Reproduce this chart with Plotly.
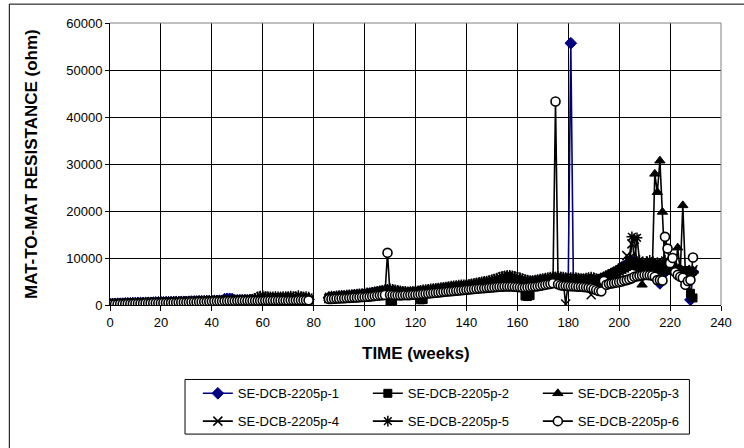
import plotly.graph_objects as go

# ---------------- data (ohm) ----------------
WEEKS_A = [0, 1, 2, 3, 4, 5, 6, 7, 8, 9, 10, 11, 12, 13, 14, 15, 16, 17, 18, 19,
           20, 21, 22, 23, 24, 25, 26, 27, 28, 29, 30, 31, 32, 33, 34, 35, 36, 37, 38, 39,
           40, 41, 42, 43, 44, 45, 46, 47, 48, 49, 50, 51, 52, 53, 54, 55, 56, 57, 58, 59,
           60, 61, 62, 63, 64, 65, 66, 67, 68, 69, 70, 71, 72, 73, 74, 75, 76, 77, 78]
WEEKS_B = [86, 87, 88, 89, 90, 91, 92, 93, 94, 95, 96, 97, 98, 99, 100, 101, 102, 103, 104, 105,
           106, 107, 108, 109, 110, 111, 112, 113, 114, 115, 116, 117, 118, 119, 120, 121, 122, 123, 124, 125,
           126, 127, 128, 129, 130, 131, 132, 133, 134, 135, 136, 137, 138, 139, 140, 141, 142, 143, 144, 145,
           146, 147, 148, 149, 150, 151, 152, 153, 154, 155, 156, 157, 158, 159, 160, 161, 162, 163, 164, 165,
           166, 167, 168, 169, 170, 171, 172, 173, 174, 175, 176, 177, 178, 179, 180, 181, 182, 183, 184, 185,
           186, 187, 188, 189, 190, 191, 192, 193, 194, 195, 196, 197, 198, 199, 200, 201, 202, 203, 204, 205,
           206, 207, 208, 209, 210, 211, 212, 213, 214, 215, 216, 217, 218, 219, 220, 221, 222, 223, 224, 225,
           226, 227, 228, 229]

P1_A = [200, 230, 250, 260, 290, 300, 330, 340, 360, 380,
        400, 410, 420, 440, 450, 470, 480, 500, 510, 530,
        540, 550, 570, 580, 600, 610, 620, 640, 650, 670,
        680, 700, 710, 730, 740, 760, 770, 790, 800, 820,
        840, 860, 870, 890, 900, 1250, 1320, 1300, 1280, 950,
        960, 970, 980, 990, 1000, 1010, 1020, 1030, 1050, 1080,
        1100, 1110, 1120, 1120, 1130, 1130, 1140, 1150, 1150, 1160,
        1160, 1170, 1170, 1180, 1180, 1190, 1190, 1200, 1150]
P1_B = [1500, 1550, 1600, 1650, 1700, 1750, 1800, 1850, 1900, 1950,
        2000, 2050, 2100, 2150, 2200, 2300, 2400, 2500, 2600, 2700,
        2800, 2900, 3000, 3100, 2900, 2800, 2700, 2650, 2600, 2600,
        2550, 2500, 2550, 2600, 2650, 2700, 2750, 2800, 2850, 2900,
        2950, 3000, 3100, 3200, 3300, 3400, 3500, 3550, 3600, 3650,
        3700, 3750, 3800, 3850, 3900, 3950, 4000, 4100, 4200, 4300,
        4400, 4500, 4600, 4700, 4800, 4900, 5000, 5100, 5200, 5300,
        5400, 5400, 5300, 5200, 5100, 5000, 4900, 4800, 4700, 4700,
        4800, 4900, 5000, 5100, 5200, 5200, 5300, 5300, 5400, 5400,
        5400, 5300, 5300, 5200, 5100, 55700, 5500, 5300, 5200, 5100,
        5100, 5200, 5300, 5400, 5300, 5200, 5300, 5500, 5800, 6000,
        6300, 6600, 6900, 7200, 7600, 8000, 8300, 8600, 8900, 9200,
        9000, 8800, 8600, 8400, 8200, 8500, 8800, 9000, 8000, 7500,
        4600, 6500, 7000, 7500, 7800, 8000, 7500, 7000, 6500, 6800,
        7000, 6500, 1100, 7000]

P2_A = [100, 120, 140, 170, 190, 210, 230, 250, 260, 280,
        300, 310, 330, 340, 360, 370, 390, 400, 420, 430,
        450, 460, 480, 490, 500, 520, 530, 550, 560, 580,
        590, 610, 620, 640, 650, 670, 680, 700, 710, 730,
        750, 770, 780, 790, 800, 810, 830, 840, 850, 860,
        870, 880, 890, 900, 900, 910, 920, 930, 940, 950,
        990, 1000, 1010, 1010, 1020, 1020, 1030, 1040, 1040, 1050,
        1050, 1060, 1060, 1070, 1070, 1080, 1080, 1090, 1050]
P2_B = [1400, 1450, 1480, 1520, 1560, 1600, 1650, 1700, 1750, 1800,
        1850, 1900, 1950, 2000, 2050, 2150, 2250, 2350, 2450, 2550,
        2650, 2750, 2850, 2700, 800, 850, 2600, 2500, 2450, 2400,
        2400, 2350, 2400, 2450, 2500, 2500, 1100, 1150, 2700, 2750,
        2800, 2850, 2950, 3050, 3150, 3250, 3350, 3400, 3450, 3500,
        3550, 3600, 3650, 3700, 3750, 3800, 3850, 3950, 4050, 4150,
        4250, 4350, 4450, 4550, 4650, 4750, 4850, 4950, 5050, 5150,
        5200, 5200, 5100, 5000, 4900, 4800, 4600, 1900, 1800, 2000,
        4600, 4700, 4800, 4900, 5000, 5000, 5100, 5100, 5200, 5200,
        5200, 5100, 5100, 5000, 5000, 4900, 5000, 5100, 5000, 4900,
        4900, 5000, 5100, 5200, 5100, 5000, 5100, 5300, 5600, 5800,
        6100, 6400, 6700, 7000, 7300, 7600, 7900, 8200, 8400, 8600,
        8500, 8300, 8100, 7900, 7700, 8000, 8200, 8400, 7600, 7200,
        7000, 7300, 7600, 7900, 8000, 7800, 7500, 7200, 6900, 7100,
        7300, 6800, 2500, 1500]

P3_A = [180, 200, 220, 240, 250, 270, 290, 310, 320, 340,
        350, 370, 380, 400, 410, 430, 440, 460, 470, 490,
        500, 510, 530, 540, 560, 570, 590, 600, 620, 630,
        650, 660, 680, 690, 710, 720, 740, 750, 770, 790,
        810, 820, 840, 850, 860, 880, 890, 900, 910, 920,
        930, 940, 950, 960, 970, 990, 1000, 1020, 1050, 1100,
        1150, 1160, 1170, 1180, 1180, 1190, 1200, 1200, 1210, 1210,
        1220, 1220, 1230, 1230, 1240, 1240, 1250, 1250, 1200]
P3_B = [1450, 1500, 1520, 1560, 1600, 1640, 1700, 1740, 1800, 1850,
        1900, 1950, 2000, 2050, 2100, 2200, 2300, 2400, 2500, 2600,
        2700, 2800, 2900, 3000, 2800, 2700, 2600, 2550, 2500, 2500,
        2450, 2400, 2450, 2500, 2550, 2600, 2650, 2700, 2750, 2800,
        2850, 2900, 3000, 3100, 3200, 3300, 3400, 3450, 3500, 3550,
        3600, 3650, 3700, 3750, 3800, 3850, 3900, 4000, 4100, 4200,
        4300, 4400, 4500, 4600, 4700, 4800, 4900, 5000, 5100, 5200,
        5300, 5300, 5200, 5100, 5000, 4900, 4800, 4700, 4600, 4600,
        4700, 4800, 4900, 5000, 5100, 5100, 5200, 5200, 5300, 5300,
        5300, 5200, 5200, 5100, 5100, 5000, 5100, 5200, 5100, 5000,
        5000, 5100, 5200, 5300, 5200, 5100, 5200, 5400, 5700, 5900,
        6200, 6500, 6800, 7100, 7400, 7800, 8100, 8400, 8700, 9000,
        8800, 8600, 8000, 4300, 7800, 8000, 8500, 7000, 27900, 24000,
        30700, 19800, 8000, 7500, 7000, 7200, 7500, 12200, 7000, 21200,
        7000, 6500, 6800, 7200]

P4_A = [160, 180, 190, 210, 230, 250, 260, 280, 300, 310,
        330, 350, 360, 380, 390, 410, 420, 440, 450, 470,
        480, 500, 510, 530, 540, 560, 570, 590, 600, 620,
        630, 650, 660, 680, 690, 710, 720, 740, 760, 770,
        790, 800, 820, 830, 840, 850, 870, 880, 890, 900,
        910, 920, 930, 940, 950, 960, 970, 990, 1010, 1050,
        1100, 1090, 1100, 1110, 1110, 1120, 1130, 1130, 1140, 1140,
        1150, 1150, 1160, 1160, 1170, 1170, 1180, 1180, 1120]
P4_B = [1350, 1400, 1450, 1500, 1520, 1550, 1600, 1650, 1700, 1750,
        1800, 1850, 1900, 1950, 2000, 2100, 2200, 2300, 2400, 2500,
        2600, 2700, 2800, 2900, 2700, 2600, 2500, 2450, 2400, 2400,
        2350, 2300, 2350, 2400, 2450, 2500, 2550, 2600, 2650, 2700,
        2750, 2800, 2900, 3000, 3100, 3200, 3300, 3350, 3400, 3450,
        3500, 3550, 3600, 3650, 3700, 3750, 3800, 3900, 4000, 4100,
        4200, 4300, 4400, 4500, 4600, 4700, 4800, 4900, 5000, 5100,
        5100, 5100, 5000, 4900, 4800, 4700, 4600, 4500, 4400, 4400,
        4500, 4600, 4700, 4800, 4900, 4900, 5000, 5000, 5100, 5100,
        5100, 5000, 5000, 200, 4900, 4800, 4900, 5000, 4900, 4800,
        4800, 4900, 5000, 2200, 5000, 4900, 5000, 5200, 5500, 5700,
        6000, 6300, 6600, 6900, 7200, 7600, 7900, 10500, 9000, 13000,
        14000, 8800, 8600, 8400, 8200, 8000, 8300, 8600, 7800, 7400,
        7200, 7500, 7800, 8100, 8200, 8000, 7700, 7400, 7100, 7300,
        7500, 7000, 6800, 7500]

P5_A = [250, 270, 290, 310, 330, 350, 370, 390, 410, 430,
        440, 460, 480, 500, 510, 530, 550, 560, 580, 600,
        610, 630, 650, 660, 680, 700, 710, 730, 740, 760,
        780, 790, 810, 830, 840, 860, 870, 890, 900, 920,
        940, 950, 970, 980, 1000, 1010, 1030, 1040, 1060, 1070,
        1090, 1100, 1120, 1140, 1150, 1170, 1190, 1400, 1700, 1900,
        2000, 1800, 1750, 1700, 1700, 1750, 1700, 1700, 1750, 1800,
        1750, 1900, 1800, 1750, 2000, 1800, 1700, 1750, 1650]
P5_B = [1800, 1900, 1850, 1950, 2000, 2050, 2000, 2100, 2150, 2200,
        2250, 2300, 2350, 2400, 2500, 2550, 2600, 2700, 2800, 2900,
        3000, 3100, 3200, 3300, 3400, 3300, 3200, 3100, 3000, 2900,
        2900, 2800, 2850, 2900, 2950, 3000, 3100, 3200, 3250, 3300,
        3400, 3500, 3550, 3600, 3700, 3750, 3800, 3900, 4000, 4050,
        4100, 4200, 4250, 4300, 4350, 4400, 4500, 4600, 4700, 4800,
        4900, 5000, 5100, 5200, 5400, 5500, 5700, 5900, 6100, 6200,
        6300, 6300, 6200, 6100, 5900, 5800, 5600, 5400, 5300, 5200,
        5200, 5300, 5400, 5500, 5600, 5700, 5800, 5900, 6000, 6000,
        6100, 6000, 5900, 5800, 5700, 5800, 5900, 5800, 5700, 5600,
        5600, 5700, 5800, 5900, 5800, 5600, 5500, 5700, 6000, 6200,
        6500, 6800, 7000, 7300, 7600, 8000, 8200, 8500, 10000, 14500,
        9500, 14300, 9500, 9000, 8800, 9200, 9500, 9000, 8800, 9000,
        8500, 9000, 9500, 8800, 8500, 8000, 7800, 7500, 7200, 7000,
        6800, 6600, 6500, 7200]

P6_A = [120, 140, 160, 180, 200, 220, 240, 260, 280, 300,
        310, 320, 340, 350, 370, 380, 400, 410, 430, 440,
        450, 470, 480, 500, 510, 530, 540, 560, 570, 590,
        600, 620, 630, 650, 660, 680, 690, 710, 720, 750,
        780, 790, 800, 810, 820, 830, 840, 850, 860, 870,
        880, 890, 890, 900, 900, 910, 910, 920, 920, 930,
        940, 940, 950, 950, 960, 960, 970, 970, 980, 980,
        980, 990, 990, 990, 1000, 1000, 1000, 1010, 990]
P6_B = [1270, 1300, 1330, 1380, 1400, 1430, 1450, 1500, 1520, 1560,
        1580, 1620, 1650, 1690, 1700, 1750, 1790, 1850, 1900, 1980,
        2050, 2100, 2150, 11100, 2200, 2150, 2100, 2100, 2050, 2100,
        2150, 2100, 2150, 2200, 2180, 2250, 2300, 2350, 2400, 2450,
        2500, 2550, 2600, 2650, 2700, 2800, 2850, 2900, 2950, 3000,
        3050, 3100, 3150, 3200, 3230, 3300, 3350, 3400, 3450, 3500,
        3550, 3600, 3650, 3700, 3750, 3800, 3850, 3900, 3900, 3950,
        3950, 3950, 3940, 3900, 3850, 3800, 3700, 3750, 3800, 3850,
        3900, 3950, 4000, 4100, 4200, 4300, 4400, 4500, 4650, 43300,
        4400, 4200, 4100, 4100, 4050, 4000, 4000, 3950, 3900, 3900,
        3850, 3800, 3700, 3600, 3400, 3200, 3000, 2900, 5100, 4300,
        4500, 4600, 4700, 4800, 4900, 5000, 5200, 5300, 5500, 5700,
        6000, 6100, 6200, 6300, 6400, 6400, 6350, 6300, 6000, 5300,
        5300, 5200, 14500, 12000, 8900, 10000, 7000, 6400, 6000, 5800,
        4300, 5100, 5300, 10100]

SERIES_NAMES = ["SE-DCB-2205p-1", "SE-DCB-2205p-2", "SE-DCB-2205p-3",
                "SE-DCB-2205p-4", "SE-DCB-2205p-5", "SE-DCB-2205p-6"]
SERIES_A = [P1_A, P2_A, P3_A, P4_A, P5_A, P6_A]
SERIES_B = [P1_B, P2_B, P3_B, P4_B, P5_B, P6_B]
X_TICKS = [0, 20, 40, 60, 80, 100, 120, 140, 160, 180, 200, 220, 240]
Y_TICKS = [0, 10000, 20000, 30000, 40000, 50000, 60000]

for a, b in zip(SERIES_A, SERIES_B):
    assert len(a) == len(WEEKS_A) and len(b) == len(WEEKS_B), (len(a), len(b))

# ---------------- styling ----------------
FONT = "Liberation Sans, Arial, sans-serif"
NAVY = "#000080"
styles = [
    dict(symbol="diamond", size=9, color=NAVY, line=dict(color=NAVY, width=1)),
    dict(symbol="square", size=8, color="black", line=dict(color="black", width=1)),
    dict(symbol="triangle-up", size=9, color="black", line=dict(color="black", width=1)),
    dict(symbol="x-thin-open", size=9, color="black", line=dict(color="black", width=1.5)),
    dict(symbol="asterisk-open", size=9, color="black", line=dict(color="black", width=1.5)),
    dict(symbol="circle", size=9, color="white", line=dict(color="black", width=1.6)),
]
line_colors = [NAVY, "black", "black", "black", "black", "black"]

fig = go.Figure()
for i, name in enumerate(SERIES_NAMES):
    xs = WEEKS_A + [None] + WEEKS_B
    ys = SERIES_A[i] + [None] + SERIES_B[i]
    fig.add_trace(go.Scatter(
        x=xs, y=ys, name=name, mode="lines+markers",
        line=dict(color=line_colors[i], width=1.6),
        marker=styles[i],
        legend="legend" if i < 3 else "legend2",
        connectgaps=False,
    ))

L, R, T, B = 110, 15, 23, 141
W, H = 744, 448
PW, PH = W - L - R, H - T - B


def px(x):
    return (x - L) / PW


def py(y):
    return (H - B - y) / PH


shapes = [
    # outer chart border (top/left visible)
    dict(type="rect", xref="paper", yref="paper", x0=px(8), x1=px(760), y0=py(470), y1=py(4),
         line=dict(color="black", width=1), fillcolor="rgba(0,0,0,0)", layer="above"),
    # plot area border (grey, top and right)
    dict(type="line", xref="paper", yref="paper", x0=0, x1=1, y0=1, y1=1,
         line=dict(color="#808080", width=1), layer="above"),
    dict(type="line", xref="paper", yref="paper", x0=1, x1=1, y0=0, y1=1,
         line=dict(color="#808080", width=1), layer="above"),
    # legend box
    dict(type="rect", xref="paper", yref="paper", x0=px(186), x1=px(697), y0=py(437), y1=py(382),
         line=dict(color="black", width=1), fillcolor="rgba(0,0,0,0)", layer="above"),
]

annotations = [
    dict(text="<b>TIME (weeks)</b>", xref="paper", yref="paper", x=0.5, y=py(356),
         xanchor="center", yanchor="middle", showarrow=False,
         font=dict(family=FONT, size=17, color="black")),
    dict(text="<b>MAT-TO-MAT RESISTANCE (ohm)</b>", xref="paper", yref="paper", x=px(30), y=0.5,
         xanchor="center", yanchor="middle", showarrow=False, textangle=-90,
         font=dict(family=FONT, size=17, color="black")),
]

leg_common = dict(orientation="h", xanchor="left", yanchor="middle", bgcolor="rgba(0,0,0,0)",
                  borderwidth=0, font=dict(family=FONT, size=13, color="black"),
                  entrywidth=125, entrywidthmode="pixels", itemclick=False, itemdoubleclick=False)

fig.update_layout(
    width=W, height=H,
    margin=dict(l=L, r=R, t=T, b=B, pad=0),
    paper_bgcolor="white", plot_bgcolor="white",
    font=dict(family=FONT, size=13, color="black"),
    showlegend=True,
    hovermode=False,
    legend=dict(x=px(199), y=py(396), **leg_common),
    legend2=dict(x=px(199), y=py(424), **leg_common),
    shapes=shapes,
    annotations=annotations,
    xaxis=dict(range=[0, 240], tickvals=X_TICKS, ticktext=[str(v) for v in X_TICKS],
               showgrid=True, gridcolor="black", gridwidth=1,
               showline=True, linecolor="black", linewidth=1,
               ticks="outside", ticklen=5, tickcolor="black",
               zeroline=False, tickfont=dict(family=FONT, size=13, color="black")),
    yaxis=dict(range=[0, 60000], tickvals=Y_TICKS, ticktext=[str(v) for v in Y_TICKS],
               showgrid=True, gridcolor="black", gridwidth=1,
               showline=True, linecolor="black", linewidth=1,
               ticks="outside", ticklen=4, tickcolor="black",
               zeroline=False, tickfont=dict(family=FONT, size=13, color="black")),
)

fig.write_html("out.html", config={"displayModeBar": False, "staticPlot": False},
               post_script="document.body.style.margin='0';")
